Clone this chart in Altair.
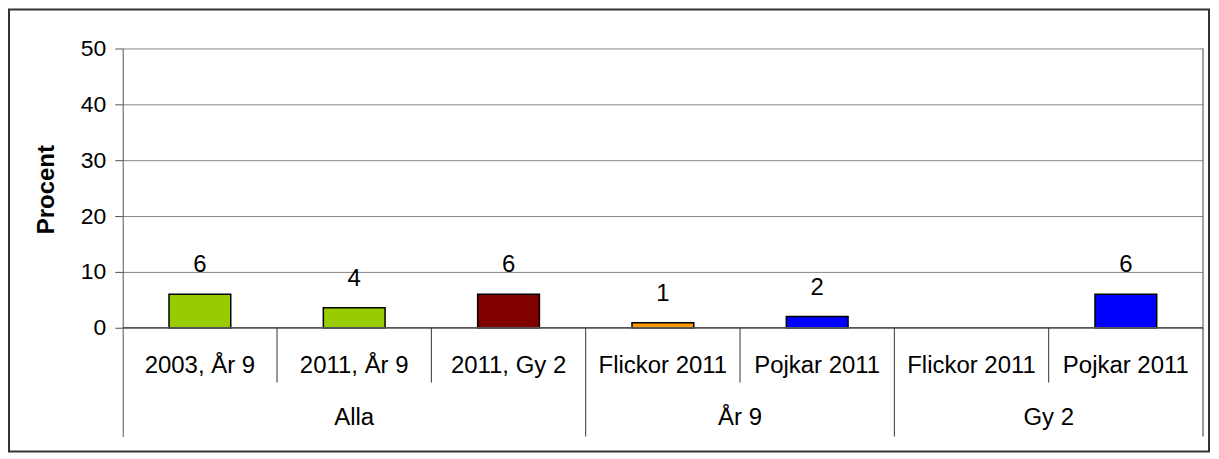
import altair as alt
import pandas as pd

groups = ["Alla", "Alla", "Alla", "År 9", "År 9", "Gy 2", "Gy 2"]
categories = ["2003, År 9", "2011, År 9", "2011, Gy 2", "Flickor 2011", "Pojkar 2011", "Flickor 2011", "Pojkar 2011"]
values = [6.0, 3.6, 6.0, 0.9, 2.0, 0.0, 6.0]
colors = ["#99CC00", "#99CC00", "#800000", "#FF9900", "#0000FF", "#0000FF", "#0000FF"]
y_ticks = [0, 10, 20, 30, 40, 50]

Y_MIN = -19.46
ROW1_Y = -6.8
ROW2_Y = -16.1
SHORT_SEP = -9.8
FONT = "Liberation Sans"
FS = 24
TICK_FS = 23

n = len(categories)
df = pd.DataFrame({
    "idx": list(range(n)),
    "group": groups,
    "category": categories,
    "value": values,
    "color": colors,
})
df["x0"] = df["idx"] + 0.3
df["x1"] = df["idx"] + 0.7
df["xc"] = df["idx"] + 0.5
df["zero"] = 0.0
df["label"] = [str(int(round(v))) if v > 0 else "" for v in values]
df["row1"] = ROW1_Y

grp_rows = []
for g in dict.fromkeys(groups):
    ids = [i for i, gg in enumerate(groups) if gg == g]
    grp_rows.append({"group": g, "xc": (min(ids) + max(ids) + 1) / 2, "row2": ROW2_Y})
gdf = pd.DataFrame(grp_rows)

sep_rows = []
for i in range(1, n + 1):
    if i < n and groups[i] == groups[i - 1]:
        sep_rows.append({"x": float(i), "y": 0.0, "y2": SHORT_SEP})
    else:
        sep_rows.append({"x": float(i), "y": 0.0, "y2": Y_MIN})
sdf = pd.DataFrame(sep_rows)

xs = alt.Scale(domain=[0, n], nice=False, zero=False)
ys = alt.Scale(domain=[Y_MIN, 50], nice=False, zero=False)
yaxis = alt.Axis(
    values=y_ticks, grid=True, gridColor="#868686", gridWidth=1,
    domainColor="#555555", tickColor="#555555", tickSize=8,
    labelFont=FONT, labelFontSize=TICK_FS, labelColor="black", labelPadding=9,
    title="Procent", titleFont=FONT, titleFontSize=24, titleFontWeight="bold",
    titleColor="black", titleX=-76, titleY=141, titleAngle=270,
    titleAlign="center", titleBaseline="middle")


def X(field):
    return alt.X(field, scale=xs, axis=None)


def Y(field):
    return alt.Y(field, scale=ys, axis=yaxis)


base = alt.Chart(df)

bars = base.transform_filter("datum.value > 0").mark_rect(stroke="black", strokeWidth=1.5).encode(
    x=X("x0:Q"), x2="x1:Q",
    y=Y("value:Q"), y2="zero:Q",
    color=alt.Color("color:N", scale=None),
)

value_labels = base.transform_filter("datum.value > 0").mark_text(
    font=FONT, fontSize=FS, color="black", dy=-29, baseline="middle"
).encode(x=X("xc:Q"), y=Y("value:Q"), text="label:N")

cat_labels = base.mark_text(font=FONT, fontSize=FS, color="black", baseline="middle").encode(
    x=X("xc:Q"), y=Y("row1:Q"), text="category:N")

grp_labels = alt.Chart(gdf).mark_text(font=FONT, fontSize=FS, color="black", baseline="middle").encode(
    x=X("xc:Q"), y=Y("row2:Q"), text="group:N")

seps = alt.Chart(sdf).mark_rule(color="#333333", strokeWidth=1).encode(
    x=X("x:Q"), y=Y("y:Q"), y2="y2:Q")

right_border = alt.Chart(pd.DataFrame({"x": [float(n)], "y": [0.0], "y2": [50.0]})).mark_rule(
    color="#868686", strokeWidth=1.5
).encode(x=X("x:Q"), y=Y("y:Q"), y2="y2:Q")

zero_line = alt.Chart(pd.DataFrame({"x": [0.0], "x2": [float(n)], "y": [0.0]})).mark_rule(
    color="#555555", strokeWidth=1.5
).encode(x=X("x:Q"), x2="x2:Q", y=Y("y:Q"))

frame = alt.Chart(pd.DataFrame({"a": [0]})).mark_rect(
    fill="transparent", stroke="#333333", strokeWidth=2
).encode(
    x=alt.value(-114), x2=alt.value(1089), y=alt.value(-39), y2=alt.value(404)
)

chart = alt.layer(
    right_border, bars, zero_line, seps, value_labels, cat_labels, grp_labels, frame
).properties(
    width=1083, height=389,
    padding={"left": 115, "top": 40, "right": 8, "bottom": 17},
    autosize=alt.AutoSizeParams(type="none"),
    background="white",
).configure_view(stroke=None)

chart.save("out.html", embed_options={"renderer": "svg", "actions": False})
